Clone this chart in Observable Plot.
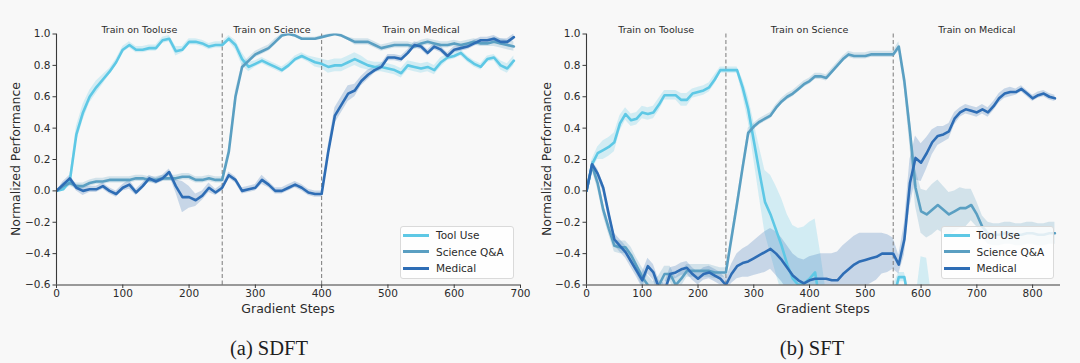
<!DOCTYPE html>
<html><head><meta charset="utf-8">
<script src="https://cdn.jsdelivr.net/npm/d3@7"></script>
<script src="https://cdn.jsdelivr.net/npm/@observablehq/plot@0.6"></script>
<style>
html,body{margin:0;padding:0;background:#f8f8f8;}
#root{position:relative;width:1080px;height:363px;overflow:hidden;font-family:"DejaVu Sans",sans-serif;color:#2b2b2b;}
.panel{position:absolute;top:0;width:540px;height:363px;}
.panel svg{position:absolute;left:0;top:0;overflow:visible;}
.ylab{position:absolute;font-size:12.5px;white-space:nowrap;transform:translate(-50%,-50%) rotate(-90deg);}
.xlab{position:absolute;font-size:12.5px;white-space:nowrap;transform:translate(-50%,-50%);}
.cap{position:absolute;font-family:"Liberation Serif","Times New Roman",serif;font-size:20.5px;transform:translate(-50%,-50%);white-space:nowrap;color:#1e1e1e;}
.legend{position:absolute;border:1px solid #dadada;border-radius:3px;background:rgba(255,255,255,0.82);box-sizing:border-box;}
.legend .row{position:absolute;left:0;height:16px;width:100%;}
.legend .sw{position:absolute;left:2px;top:6.5px;width:26px;height:3px;}
.legend .tx{position:absolute;left:35px;top:0;line-height:16px;font-size:10.5px;white-space:nowrap;}
</style></head>
<body><div id="root"></div>
<script>
// ---------- data ----------
const seriesNames = ["Tool Use", "Science Q&A", "Medical"];
const seriesColors = ["#5ec8e5", "#5a9fc2", "#2e6db5"];
const yTicks = [-0.6, -0.4, -0.2, 0.0, 0.2, 0.4, 0.6, 0.8, 1.0];
const xTicksLeft = [0, 100, 200, 300, 400, 500, 600, 700];
const xTicksRight = [0, 100, 200, 300, 400, 500, 600, 700, 800];
const phaseLabels = ["Train on Tooluse", "Train on Science", "Train on Medical"];
const phaseBoundsLeft = [0, 250, 400, 700];
const phaseBoundsRight = [0, 250, 550, 850];
const stepsLeft = d3.range(0, 700, 10);
const stepsRight = d3.range(0, 850, 10);

// (a) SDFT
const leftToolUse = [0.00,0.01,0.06,0.36,0.50,0.60,0.66,0.71,0.76,0.82,
 0.90,0.93,0.90,0.90,0.91,0.91,0.96,0.97,0.89,0.90,
 0.95,0.95,0.94,0.92,0.93,0.93,0.97,0.93,0.84,0.79,
 0.81,0.83,0.81,0.79,0.77,0.80,0.84,0.86,0.84,0.82,
 0.81,0.79,0.80,0.80,0.82,0.84,0.82,0.80,0.79,0.79,
 0.78,0.77,0.75,0.80,0.79,0.78,0.79,0.77,0.82,0.85,
 0.86,0.88,0.84,0.81,0.79,0.84,0.85,0.80,0.78,0.83];
const leftScience = [0.00,0.03,0.05,0.03,0.03,0.05,0.06,0.06,0.07,0.07,
 0.07,0.07,0.08,0.08,0.07,0.07,0.08,0.08,0.08,0.09,
 0.09,0.07,0.07,0.08,0.07,0.07,0.25,0.60,0.79,0.83,
 0.87,0.89,0.91,0.95,0.99,1.00,0.99,0.97,0.97,0.97,
 0.98,0.99,1.00,0.99,0.97,0.95,0.95,0.95,0.93,0.91,
 0.92,0.93,0.93,0.93,0.92,0.94,0.95,0.94,0.93,0.93,
 0.94,0.93,0.94,0.95,0.94,0.94,0.95,0.94,0.93,0.92];
const leftMedical = [0.00,0.04,0.08,0.02,0.00,0.01,0.01,0.03,0.00,-0.02,
 0.02,0.04,-0.01,0.03,0.08,0.06,0.08,0.12,0.03,-0.04,
 -0.04,-0.06,-0.03,0.02,-0.01,0.02,0.10,0.07,0.00,0.01,
 0.02,0.07,0.04,0.00,0.00,0.02,0.04,0.02,-0.01,-0.02,
 -0.02,0.25,0.48,0.55,0.62,0.64,0.70,0.74,0.77,0.79,
 0.85,0.85,0.84,0.88,0.93,0.92,0.88,0.92,0.90,0.86,
 0.90,0.91,0.92,0.94,0.96,0.96,0.97,0.95,0.95,0.98];
const leftToolUseSpread = [0.00,0.01,0.03,0.05,0.05,0.04,0.04,0.03,0.02,0.02,
 0.02,0.02,0.02,0.02,0.02,0.02,0.02,0.02,0.03,0.02,
 0.02,0.02,0.02,0.02,0.02,0.02,0.02,0.03,0.04,0.03,
 0.02,0.02,0.02,0.02,0.02,0.02,0.02,0.02,0.02,0.03,
 0.03,0.04,0.04,0.04,0.04,0.04,0.04,0.03,0.03,0.03,
 0.03,0.03,0.03,0.03,0.03,0.03,0.03,0.03,0.03,0.02,
 0.02,0.02,0.02,0.02,0.02,0.02,0.02,0.03,0.03,0.03];
const leftScienceSpread = [0.00,0.02,0.02,0.02,0.02,0.02,0.02,0.02,0.02,0.02,
 0.02,0.02,0.02,0.02,0.02,0.02,0.02,0.02,0.02,0.02,
 0.02,0.02,0.02,0.02,0.02,0.02,0.03,0.04,0.02,0.02,
 0.02,0.02,0.02,0.02,0.01,0.01,0.01,0.01,0.01,0.01,
 0.01,0.01,0.01,0.01,0.01,0.02,0.02,0.02,0.02,0.02,
 0.02,0.02,0.02,0.02,0.02,0.02,0.02,0.02,0.02,0.02,
 0.02,0.02,0.02,0.02,0.02,0.02,0.03,0.03,0.03,0.03];
const leftMedicalSpread = [0.00,0.02,0.02,0.02,0.03,0.02,0.02,0.02,0.02,0.02,
 0.02,0.03,0.02,0.02,0.02,0.02,0.02,0.02,0.04,0.10,
 0.07,0.04,0.03,0.03,0.02,0.02,0.02,0.02,0.02,0.02,
 0.02,0.03,0.02,0.02,0.02,0.02,0.02,0.02,0.02,0.02,
 0.02,0.04,0.05,0.05,0.05,0.04,0.03,0.03,0.02,0.02,
 0.02,0.02,0.02,0.02,0.02,0.02,0.02,0.02,0.02,0.02,
 0.02,0.02,0.02,0.02,0.02,0.02,0.02,0.02,0.02,0.02];

// (b) SFT
const rightToolUse = [0.00,0.17,0.24,0.26,0.28,0.31,0.43,0.49,0.45,0.46,
 0.50,0.49,0.50,0.55,0.61,0.61,0.61,0.58,0.58,0.62,
 0.63,0.64,0.66,0.71,0.77,0.77,0.77,0.77,0.66,0.52,
 0.32,0.12,-0.07,-0.15,-0.25,-0.35,-0.47,-0.56,-0.60,-0.59,
 -0.56,-0.52,-0.75,-0.85,-0.90,-0.90,-0.92,-0.90,-0.88,-0.90,
 -0.92,-0.90,-0.88,-0.85,-0.80,-0.70,-0.55,-0.55,-0.75,-0.85,
 -0.82,-0.85,-0.90,-0.92,-0.90,-0.92,-0.93,-0.90,-0.92,-0.94,
 -0.92,-0.90,-0.92,-0.93,-0.92,-0.90,-0.92,-0.94,-0.92,-0.93,
 -0.92,-0.90,-0.92,-0.93,-0.92];
const rightScience = [0.00,0.16,0.05,-0.12,-0.24,-0.35,-0.36,-0.36,-0.41,-0.48,
 -0.55,-0.60,-0.64,-0.60,-0.53,-0.53,-0.60,-0.56,-0.51,-0.51,
 -0.51,-0.51,-0.51,-0.52,-0.52,-0.52,-0.30,-0.08,0.15,0.37,
 0.41,0.44,0.46,0.48,0.53,0.57,0.60,0.62,0.65,0.68,
 0.70,0.73,0.73,0.72,0.76,0.80,0.84,0.87,0.86,0.86,
 0.86,0.87,0.87,0.87,0.87,0.87,0.92,0.70,0.38,0.02,
 -0.13,-0.15,-0.12,-0.09,-0.12,-0.15,-0.13,-0.11,-0.11,-0.09,
 -0.15,-0.23,-0.27,-0.28,-0.28,-0.27,-0.27,-0.28,-0.28,-0.27,
 -0.27,-0.28,-0.28,-0.27,-0.27];
const rightMedical = [0.00,0.17,0.11,0.02,-0.15,-0.31,-0.35,-0.39,-0.45,-0.51,
 -0.57,-0.48,-0.52,-0.62,-0.64,-0.53,-0.52,-0.50,-0.49,-0.53,
 -0.56,-0.53,-0.52,-0.54,-0.56,-0.60,-0.53,-0.48,-0.46,-0.45,
 -0.43,-0.41,-0.39,-0.37,-0.40,-0.44,-0.49,-0.54,-0.57,-0.59,
 -0.57,-0.56,-0.56,-0.56,-0.57,-0.57,-0.53,-0.50,-0.47,-0.45,
 -0.44,-0.43,-0.42,-0.40,-0.40,-0.40,-0.47,-0.31,0.05,0.21,
 0.18,0.24,0.31,0.35,0.36,0.38,0.46,0.50,0.52,0.51,
 0.50,0.52,0.50,0.54,0.59,0.62,0.63,0.63,0.65,0.62,
 0.59,0.61,0.62,0.60,0.59];
const rightToolUseSpread = [0.00,0.03,0.04,0.06,0.06,0.06,0.05,0.04,0.04,0.04,
 0.04,0.04,0.04,0.04,0.03,0.03,0.03,0.04,0.04,0.03,
 0.03,0.03,0.03,0.03,0.02,0.02,0.02,0.02,0.05,0.08,
 0.12,0.16,0.20,0.25,0.28,0.30,0.32,0.34,0.36,0.36,
 0.36,0.34,0.35,0.20,0.15,0.15,0.15,0.15,0.15,0.15,
 0.15,0.15,0.15,0.15,0.12,0.10,0.03,0.03,0.10,0.15,
 0.40,0.42,0.20,0.15,0.15,0.15,0.15,0.15,0.15,0.15,
 0.15,0.15,0.15,0.15,0.15,0.15,0.15,0.15,0.15,0.15,
 0.15,0.15,0.15,0.15,0.15];
const rightScienceSpread = [0.00,0.03,0.04,0.04,0.04,0.04,0.04,0.04,0.05,0.05,
 0.06,0.06,0.06,0.06,0.05,0.05,0.05,0.05,0.04,0.04,
 0.04,0.04,0.04,0.04,0.03,0.03,0.03,0.03,0.03,0.03,
 0.02,0.02,0.02,0.02,0.02,0.02,0.02,0.02,0.02,0.02,
 0.02,0.02,0.02,0.02,0.02,0.02,0.02,0.02,0.02,0.02,
 0.02,0.02,0.02,0.02,0.02,0.02,0.03,0.05,0.10,0.12,
 0.14,0.15,0.16,0.16,0.15,0.14,0.13,0.13,0.12,0.10,
 0.08,0.07,0.07,0.07,0.07,0.07,0.07,0.07,0.07,0.07,
 0.07,0.07,0.07,0.07,0.07];
const rightMedicalSpread = [0.00,0.02,0.03,0.03,0.04,0.04,0.04,0.04,0.04,0.04,
 0.05,0.05,0.05,0.05,0.05,0.04,0.04,0.04,0.04,0.04,
 0.04,0.04,0.04,0.04,0.04,0.04,0.06,0.08,0.09,0.10,
 0.11,0.12,0.13,0.13,0.14,0.14,0.14,0.14,0.14,0.15,
 0.15,0.15,0.16,0.16,0.17,0.18,0.18,0.18,0.18,0.18,
 0.17,0.16,0.15,0.13,0.12,0.10,0.06,0.10,0.15,0.14,
 0.12,0.10,0.08,0.06,0.05,0.05,0.04,0.03,0.03,0.03,
 0.03,0.03,0.03,0.03,0.03,0.03,0.03,0.02,0.02,0.02,
 0.02,0.02,0.02,0.02,0.02];

// ---------- drawing ----------
const fmt = d3.format(".1f");
const axisColor = "#3a3a3a";

function makePanel(cfg) {
  const rows = cfg.series.flatMap(s => cfg.steps.map((x, i) => ({
    x, y: s.values[i], lo: s.values[i] - s.spread[i], hi: s.values[i] + s.spread[i], name: s.name
  })));
  const b = cfg.bounds;
  const phases = phaseLabels.map((label, i) => ({label, mid: (b[i] + b[i + 1]) / 2}));
  return Plot.plot({
    width: 540, height: 320,
    marginLeft: cfg.ml, marginRight: 20, marginTop: 33.5, marginBottom: 35.5,
    style: {background: "transparent", fontFamily: "DejaVu Sans", fontSize: "10.5px", color: "#2b2b2b", overflow: "visible"},
    x: {domain: cfg.xDomain, label: null},
    y: {domain: [-0.6, 1.0], label: null},
    color: {domain: seriesNames, range: seriesColors},
    marks: [
      Plot.areaY(rows, {x: "x", y1: "lo", y2: "hi", z: "name", fill: "name", fillOpacity: 0.24, clip: true}),
      Plot.ruleX(b.slice(1, -1), {stroke: "#7a7a7a", strokeWidth: 1, strokeDasharray: "4,2.5"}),
      Plot.lineY(rows, {x: "x", y: "y", z: "name", stroke: "name", strokeWidth: 2.6, strokeLinejoin: "round", clip: true}),
      Plot.ruleX([cfg.xDomain[0]], {stroke: axisColor, strokeWidth: 1.1}),
      Plot.ruleY([-0.6], {stroke: axisColor, strokeWidth: 1.1}),
      Plot.axisX({ticks: cfg.xTicks, tickSize: 3.5, tickPadding: 1, label: null, stroke: axisColor, fill: "#2b2b2b"}),
      Plot.axisY({ticks: yTicks, tickSize: 3.5, tickPadding: 2.5, label: null, tickFormat: fmt, stroke: axisColor, fill: "#2b2b2b"}),
      Plot.text(phases, {x: "mid", text: "label", frameAnchor: "top", dy: -8, fontSize: 9.5, fill: "#2b2b2b"})
    ]
  });
}

function addPanel(left, cfg, yLabX, capX, legendBox) {
  const root = document.getElementById("root");
  const div = document.createElement("div");
  div.className = "panel";
  div.style.left = left + "px";
  div.appendChild(makePanel(cfg));
  const yl = document.createElement("div");
  yl.className = "ylab"; yl.textContent = "Normalized Performance";
  yl.style.left = yLabX + "px"; yl.style.top = "159px";
  div.appendChild(yl);
  const xl = document.createElement("div");
  xl.className = "xlab"; xl.textContent = "Gradient Steps";
  xl.style.left = (cfg.ml + (540 - 20 - cfg.ml) / 2) + "px"; xl.style.top = "308px";
  div.appendChild(xl);
  const cap = document.createElement("div");
  cap.className = "cap"; cap.textContent = cfg.caption;
  cap.style.left = capX + "px"; cap.style.top = "348px";
  div.appendChild(cap);
  const lg = document.createElement("div");
  lg.className = "legend";
  lg.style.left = legendBox[0] + "px"; lg.style.top = legendBox[1] + "px";
  lg.style.width = legendBox[2] + "px"; lg.style.height = "53px";
  seriesNames.forEach((n, i) => {
    const r = document.createElement("div");
    r.className = "row"; r.style.top = (0.5 + i * 16.7) + "px";
    const sw = document.createElement("div");
    sw.className = "sw"; sw.style.background = seriesColors[i];
    const tx = document.createElement("div");
    tx.className = "tx"; tx.textContent = n;
    r.appendChild(sw); r.appendChild(tx); lg.appendChild(r);
  });
  div.appendChild(lg);
  root.appendChild(div);
}

addPanel(0, {
  steps: stepsLeft, xDomain: [0, 700], xTicks: xTicksLeft, bounds: phaseBoundsLeft, ml: 56, caption: "(a) SDFT",
  series: [
    {name: seriesNames[0], values: leftToolUse, spread: leftToolUseSpread},
    {name: seriesNames[1], values: leftScience, spread: leftScienceSpread},
    {name: seriesNames[2], values: leftMedical, spread: leftMedicalSpread}
  ]
}, 14.5, 269, [400, 225.5, 114]);

addPanel(540, {
  steps: stepsRight, xDomain: [0, 850], xTicks: xTicksRight, bounds: phaseBoundsRight, ml: 46, caption: "(b) SFT",
  series: [
    {name: seriesNames[0], values: rightToolUse, spread: rightToolUseSpread},
    {name: seriesNames[1], values: rightScience, spread: rightScienceSpread},
    {name: seriesNames[2], values: rightMedical, spread: rightMedicalSpread}
  ]
}, 5.5, 272, [400.5, 225.5, 113]);
</script>
</body></html>
